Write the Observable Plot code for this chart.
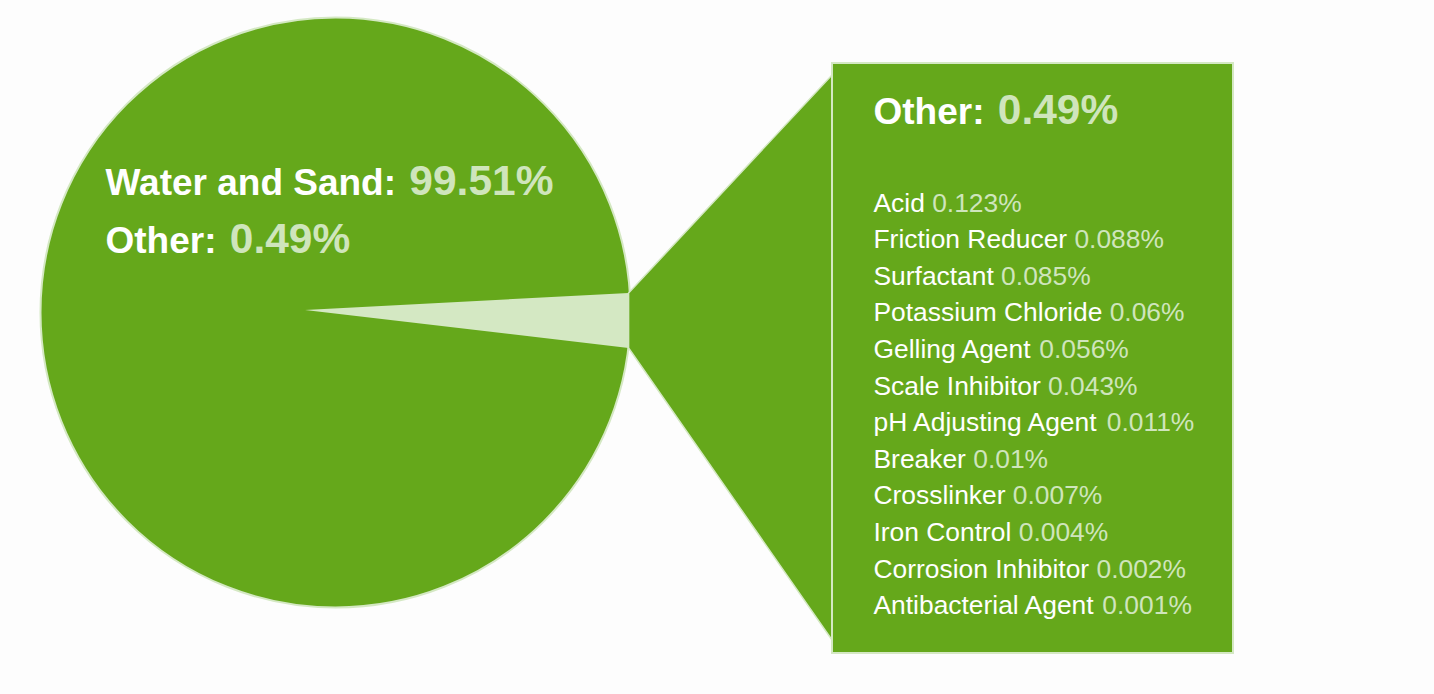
<!DOCTYPE html>
<html><head><meta charset="utf-8">
<script src="https://cdn.jsdelivr.net/npm/d3@7"></script>
<script src="https://cdn.jsdelivr.net/npm/@observablehq/plot@0.6"></script>
<style>html,body{margin:0;padding:0;background:#fff;} #chart{width:1434px;height:694px;}</style>
</head><body><div id="chart"></div>
<script>
// ---- data ----
const mainLabels = ["Water and Sand", "Other"];
const mainValues = [99.51, 0.49];
const otherLabels = ["Acid", "Friction Reducer", "Surfactant", "Potassium Chloride", "Gelling Agent", "Scale Inhibitor", "pH Adjusting Agent", "Breaker", "Crosslinker", "Iron Control", "Corrosion Inhibitor", "Antibacterial Agent"];
const otherValues = [0.123, 0.088, 0.085, 0.06, 0.056, 0.043, 0.011, 0.01, 0.007, 0.004, 0.002, 0.001];

// ---- layout & style ----
const W = 1434, H = 694;
const GREEN = "#65a81b", LIGHT = "#d4e8c3", VAL = "#cfe5bc";
const FONT = "'Liberation Sans', Arial, Helvetica, sans-serif";
const pie = {cx: 335, cy: 312, r: 295, apexX: 305, apexY: 310, wedgeTop: 293, wedgeBottom: 348};
const box = {x1: 832, x2: 1233, y1: 63, y2: 653, joinTop: 75, joinBottom: 640};
const mainText = {x: 105, baseline: 194, step: 58, labelSize: 37, valueSize: 42.5, gap: 3};
const boxText = {x: 873, titleBaseline: 123, listBaseline: 211, step: 36.6, size: 26.4};

const ctx = document.createElement("canvas").getContext("2d");
function textWidth(s, size, weight) {
  ctx.font = `${weight} ${size}px "Liberation Sans", Arial, sans-serif`;
  return ctx.measureText(s).width;
}
const pct = v => `${v}%`;

// pie edge x at given y
const edgeX = y => pie.cx + Math.sqrt(pie.r * pie.r - (y - pie.cy) ** 2);
const wedgeEnd = (edgeX(pie.wedgeTop) + edgeX(pie.wedgeBottom)) / 2;

const wedge = [
  {x: pie.apexX, y1: pie.apexY, y2: pie.apexY},
  {x: wedgeEnd, y1: pie.wedgeTop, y2: pie.wedgeBottom}
];
const connector = [
  {x: wedgeEnd, y1: pie.wedgeTop, y2: pie.wedgeBottom},
  {x: box.x1, y1: box.joinTop, y2: box.joinBottom}
];

const mainRows = mainLabels.map((l, i) => {
  const label = l + ": ";
  return {
    label, value: pct(mainValues[i]),
    x: mainText.x,
    vx: mainText.x + textWidth(label, mainText.labelSize, "bold") + mainText.gap,
    y: mainText.baseline + i * mainText.step
  };
});
// box title = the "Other" share
const oi = mainLabels.indexOf("Other");
const titleLabel = mainLabels[oi] + ": ";
const titleRows = [{
  label: titleLabel, value: pct(mainValues[oi]),
  x: boxText.x, vx: boxText.x + textWidth(titleLabel, mainText.labelSize, "bold") + mainText.gap,
  y: boxText.titleBaseline
}];
const listRows = otherLabels.map((l, i) => ({
  label: l, value: pct(otherValues[i]),
  x: boxText.x, vx: boxText.x + textWidth(l + " ", boxText.size, "normal"),
  y: boxText.listBaseline + i * boxText.step
}));

const chart = Plot.plot({
  width: W, height: H,
  margin: 0,
  x: {domain: [0, W], range: [0, W], axis: null},
  y: {domain: [0, H], range: [0, H], axis: null},
  style: {background: "#fdfdfd", fontFamily: FONT},
  marks: [
    Plot.dot([pie], {x: "cx", y: "cy", r: pie.r, fill: GREEN, stroke: LIGHT, strokeWidth: 2}),
    Plot.areaY(wedge, {x: "x", y1: "y1", y2: "y2", fill: LIGHT, curve: "linear"}),
    Plot.areaY(connector, {x: "x", y1: "y1", y2: "y2", fill: GREEN, stroke: LIGHT, strokeWidth: 1.5, curve: "linear"}),
    Plot.rect([box], {x1: "x1", x2: "x2", y1: "y1", y2: "y2", fill: GREEN, stroke: LIGHT, strokeWidth: 2}),
    // main labels
    Plot.text(mainRows, {x: "x", y: "y", text: "label", textAnchor: "start", lineAnchor: "bottom", fontSize: mainText.labelSize, fontWeight: "bold", fill: "white"}),
    Plot.text(mainRows, {x: "vx", y: "y", text: "value", textAnchor: "start", lineAnchor: "bottom", fontSize: mainText.valueSize, fontWeight: "bold", fill: VAL}),
    // box title
    Plot.text(titleRows, {x: "x", y: "y", text: "label", textAnchor: "start", lineAnchor: "bottom", fontSize: mainText.labelSize, fontWeight: "bold", fill: "white"}),
    Plot.text(titleRows, {x: "vx", y: "y", text: "value", textAnchor: "start", lineAnchor: "bottom", fontSize: mainText.valueSize, fontWeight: "bold", fill: VAL}),
    // list
    Plot.text(listRows, {x: "x", y: "y", text: "label", textAnchor: "start", lineAnchor: "bottom", fontSize: boxText.size, fill: "white"}),
    Plot.text(listRows, {x: "vx", y: "y", text: "value", textAnchor: "start", lineAnchor: "bottom", fontSize: boxText.size, fill: VAL})
  ]
});
document.getElementById("chart").appendChild(chart);
</script>
</body></html>
